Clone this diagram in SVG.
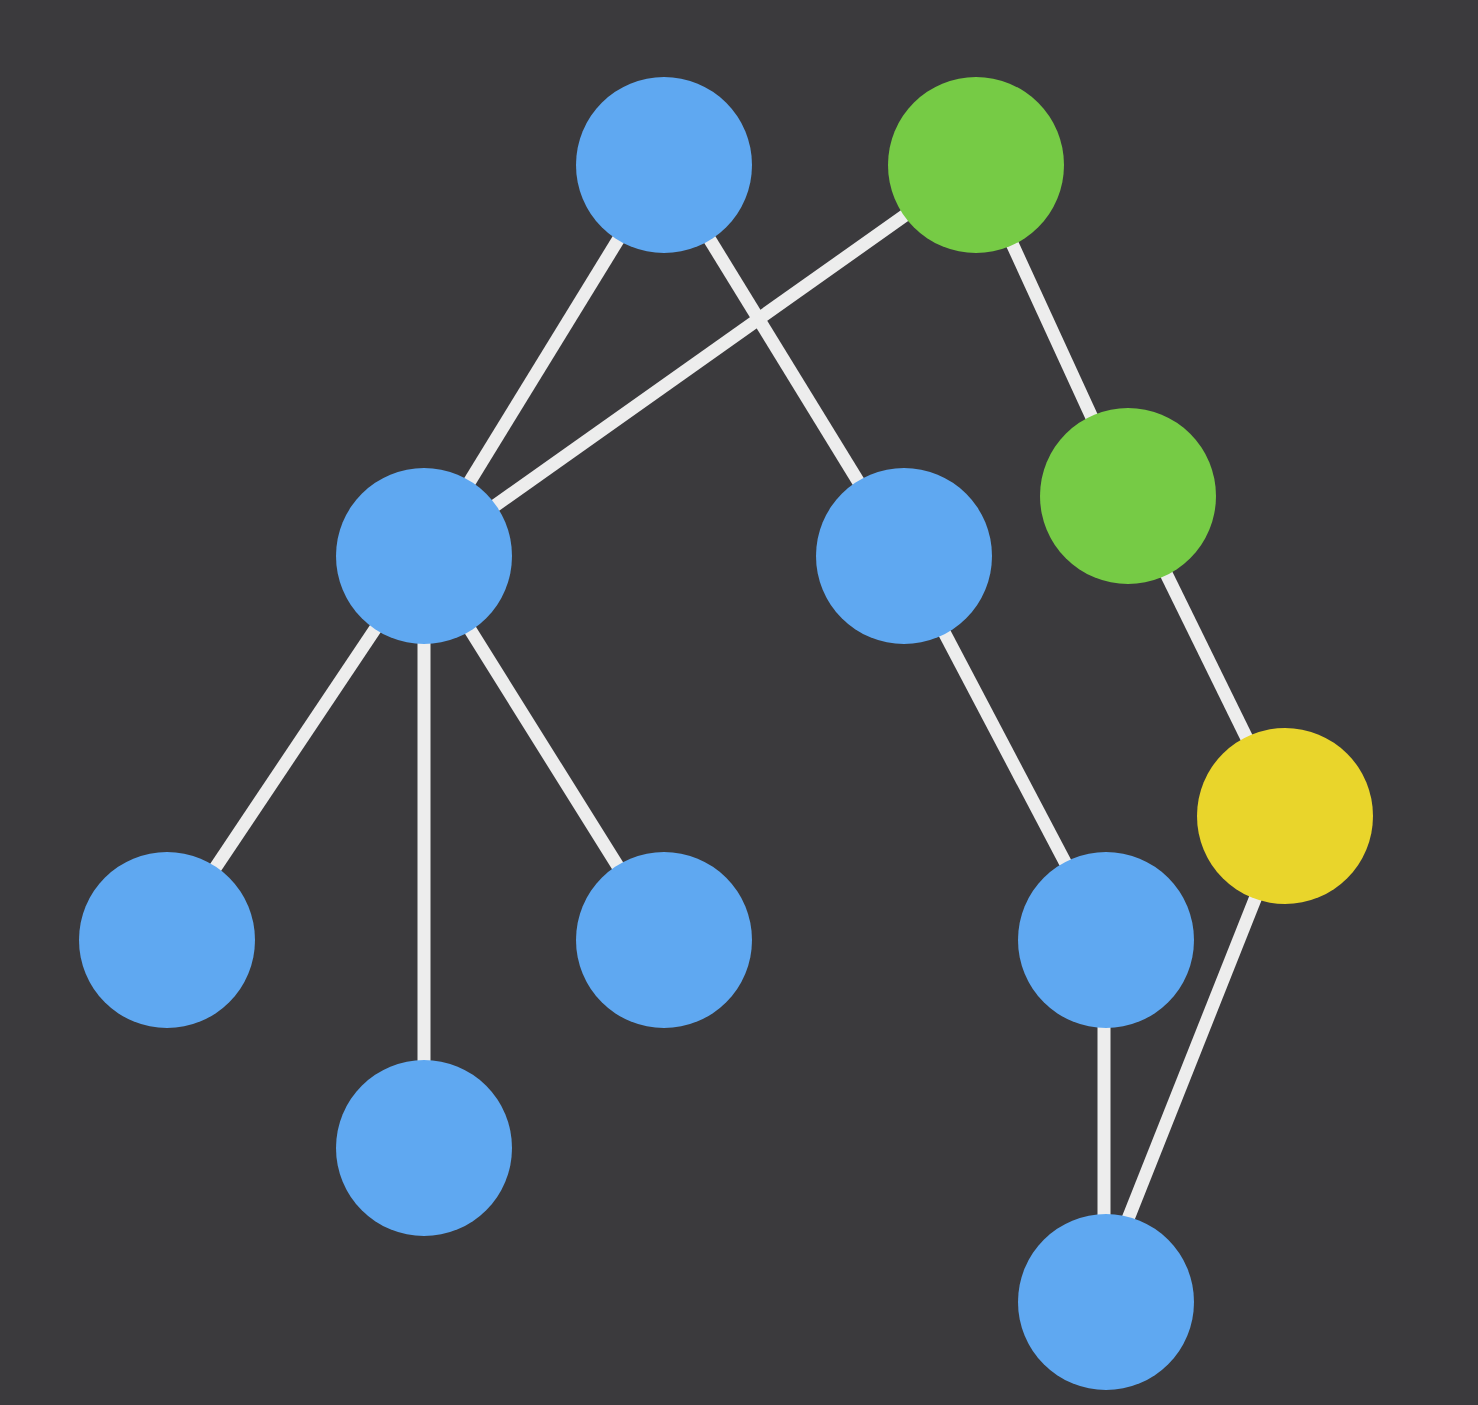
<svg xmlns="http://www.w3.org/2000/svg" width="1478" height="1405" viewBox="0 0 1478 1405">
<style>
.e{stroke:#ededed;stroke-width:13;stroke-linecap:butt}
.b{fill:#5fa8f1}
.g{fill:#76cb45}
.y{fill:#e9d52b}
</style>
<rect x="0" y="0" width="1478" height="1405" fill="#3b3a3d"/>
<g id="connectors">
<line class="e" x1="664" y1="165" x2="424" y2="556"/>
<line class="e" x1="664" y1="165" x2="904" y2="556"/>
<line class="e" x1="976" y1="165" x2="424" y2="556"/>
<line class="e" x1="976" y1="165" x2="1128" y2="496"/>
<line class="e" x1="1128" y1="496" x2="1285" y2="816"/>
<line class="e" x1="424" y1="556" x2="167" y2="940"/>
<line class="e" x1="424" y1="556" x2="424" y2="1148"/>
<line class="e" x1="424" y1="556" x2="664" y2="940"/>
<line class="e" x1="904" y1="556" x2="1106" y2="940"/>
<line class="e" x1="1104" y1="940" x2="1104" y2="1302"/>
<line class="e" x1="1288" y1="816" x2="1095" y2="1302"/>
</g>
<g id="nA"><circle class="b" cx="664" cy="165" r="88"/></g>
<g id="nB"><circle class="g" cx="976" cy="165" r="88"/></g>
<g id="nC"><circle class="b" cx="424" cy="556" r="88"/></g>
<g id="nD"><circle class="b" cx="904" cy="556" r="88"/></g>
<g id="nE"><circle class="g" cx="1128" cy="496" r="88"/></g>
<g id="nF"><circle class="y" cx="1285" cy="816" r="88"/></g>
<g id="nG"><circle class="b" cx="167" cy="940" r="88"/></g>
<g id="nH"><circle class="b" cx="664" cy="940" r="88"/></g>
<g id="nI"><circle class="b" cx="1106" cy="940" r="88"/></g>
<g id="nJ"><circle class="b" cx="424" cy="1148" r="88"/></g>
<g id="nK"><circle class="b" cx="1106" cy="1302" r="88"/></g>
</svg>
